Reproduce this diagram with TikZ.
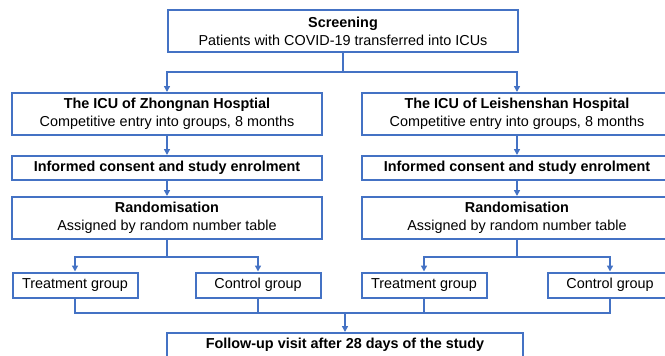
\documentclass[tikz,border=0pt]{standalone}
\usepackage{fontspec}
\setmainfont{Liberation Sans}
\usetikzlibrary{arrows.meta}
\definecolor{boxblue}{RGB}{68,114,196}

\begin{document}
\begin{tikzpicture}[x=1pt,y=-1pt,
	box/.style={draw=boxblue, line width=2pt, align=center, inner sep=0pt, font=\fontsize{14.4}{18}\selectfont},
	tall/.style={box, minimum width=310pt, minimum height=42pt},
	flat/.style={box, minimum width=310pt, minimum height=24pt},
	grp/.style={box, minimum width=125pt, minimum height=25pt},
	link/.style={draw=boxblue, line width=2pt},
	arr/.style={link, -{Triangle[length=6pt,width=6pt]}}]
	%\draw[help lines] (0,0) grid[step=50] (665,356);
	\useasboundingbox (0,0) rectangle (665,356);
	\clip (0,0) rectangle (665,356);
	\node[tall, minimum width=350pt] (screen) at (343,31) {\textbf{Screening}\\Patients with COVID-19 transferred into ICUs};
	\node[tall] (zn) at (167,114) {\textbf{The ICU of Zhongnan Hosptial}\\Competitive entry into groups, 8 months};
	\node[tall] (ls) at (517,114) {\textbf{The ICU of Leishenshan Hospital}\\Competitive entry into groups, 8 months};
	\node[flat] (inf1) at (167,168) {\textbf{Informed consent and study enrolment}};
	\node[flat] (inf2) at (517,168) {\textbf{Informed consent and study enrolment}};
	\node[tall] (rand1) at (167,218) {\textbf{Randomisation}\\Assigned by random number table};
	\node[tall] (rand2) at (517,218) {\textbf{Randomisation}\\Assigned by random number table};
	\node[grp] (trt1) at (75,285) {Treatment group};
	\node[grp] (ctl1) at (258,285) {Control group};
	\node[grp] (trt2) at (424,285) {Treatment group};
	\node[grp] (ctl2) at (610,285) {Control group};
	\node[flat, minimum width=356pt] (follow) at (345,345) {\textbf{Follow-up visit after 28 days of the study}};
	\coordinate (split) at (343,72);
	\coordinate (merge) at (345,313);
	\draw[arr] (screen.south) |- (split) -| (zn.north);
	\draw[arr] (split) -| (ls.north);
	\draw[arr] (zn) -- (inf1);
	\draw[arr] (ls) -- (inf2);
	\draw[arr] (inf1) -- (rand1);
	\draw[arr] (inf2) -- (rand2);
	\draw[arr] (rand1.south) -- ++(0,17) -| (trt1.north);
	\draw[arr] (rand1.south) -- ++(0,17) -| (ctl1.north);
	\draw[arr] (rand2.south) -- ++(0,17) -| (trt2.north);
	\draw[arr] (rand2.south) -- ++(0,17) -| (ctl2.north);
	\draw[link] (trt1.south) |- (merge) -| (ctl2.south);
	\draw[link] (ctl1.south) -- (ctl1.south |- merge);
	\draw[link] (trt2.south) -- (trt2.south |- merge);
	\draw[arr] (merge) -- (follow.north);
\end{tikzpicture}
\end{document}
